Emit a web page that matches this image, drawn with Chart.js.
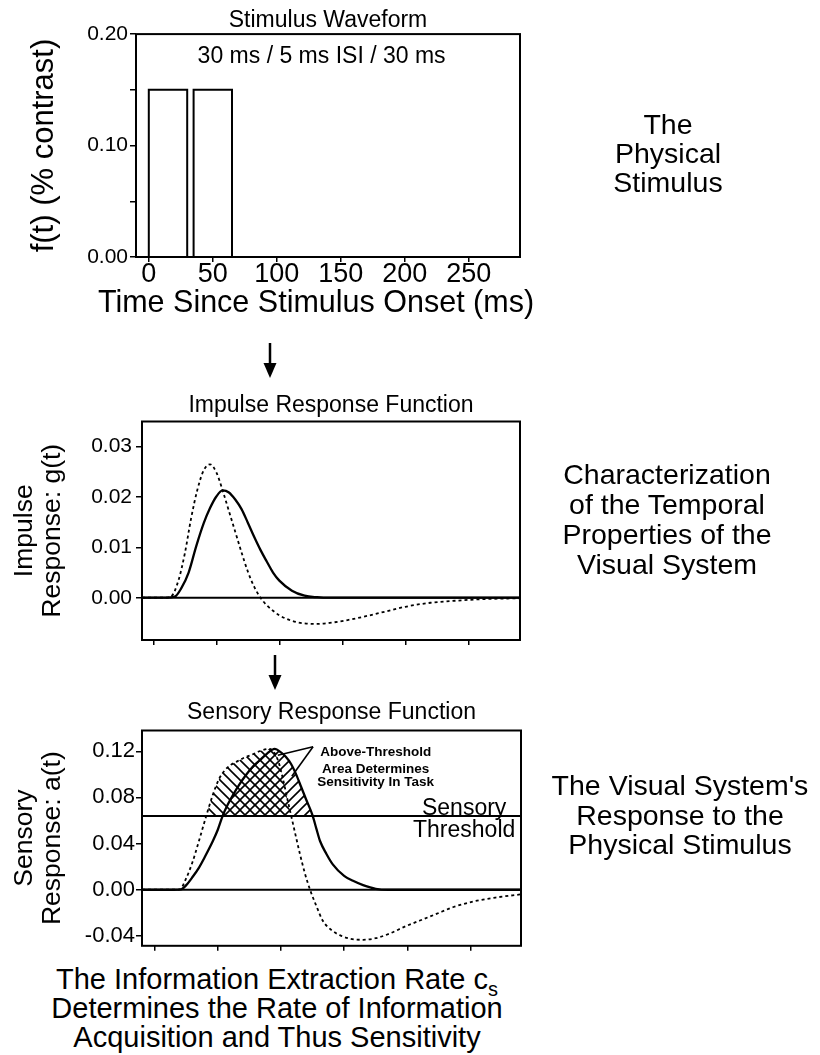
<!DOCTYPE html>
<html>
<head>
<meta charset="utf-8">
<script src="https://cdn.jsdelivr.net/npm/chart.js@4.4.0/dist/chart.umd.min.js"></script>
<style>
  body { margin: 0; background: #fff; }
  #pagina { position: relative; width: 820px; height: 1055px; font-family: "Liberation Sans", Arial, sans-serif; color: #000; }
  canvas { position: absolute; left: 0; }
  .rotulo { position: absolute; text-align: center; font-size: 28.5px; white-space: nowrap; }
  .rotulo sub { font-size: 20px; vertical-align: -7px; line-height: 0; }
  svg { position: absolute; }
</style>
</head>
<body>
<div id="pagina">
  <canvas id="graficoEstimulo" width="560" height="345" style="top:0px"></canvas>
  <canvas id="graficoImpulso" width="560" height="290" style="top:380px"></canvas>
  <canvas id="graficoSensorial" width="560" height="270" style="top:690px"></canvas>

  <div class="rotulo" style="left:66px;width:500px;top:286px;line-height:30px;font-size:30.5px">Time Since Stimulus Onset (ms)</div>

  <svg style="left:262px;top:343px" width="16" height="36"><line x1="8" y1="0" x2="8" y2="24" stroke="#000" stroke-width="2.5"/><polygon points="1.5,20 14.5,20 8,35" fill="#000"/></svg>
  <svg style="left:267px;top:655px" width="16" height="36"><line x1="8" y1="0" x2="8" y2="24" stroke="#000" stroke-width="2.5"/><polygon points="1.5,20 14.5,20 8,35" fill="#000"/></svg>

  <div class="rotulo" style="left:558px;width:220px;top:110px;line-height:29px">The<br>Physical<br>Stimulus</div>
  <div class="rotulo" style="left:552px;width:230px;top:459px;line-height:30px">Characterization<br>of the Temporal<br>Properties of the<br>Visual System</div>
  <div class="rotulo" style="left:545px;width:270px;top:771px;line-height:29.5px">The Visual System's<br>Response to the<br>Physical Stimulus</div>
  <div class="rotulo" style="left:0px;width:554px;top:965px;line-height:29px;font-size:29px">The Information Extraction Rate c<sub>s</sub><br>Determines the Rate of Information<br>Acquisition and Thus Sensitivity</div>
</div>

<script>
const fonte = '"Liberation Sans", Arial, sans-serif';
Chart.defaults.font.family = fonte;
Chart.defaults.color = "#000";

// painel 1: estimulo
const tempoTicks = [0, 50, 100, 150, 200, 250];
const tempoLabels = ["0", "50", "100", "150", "200", "250"];
const pulsoInicio = [0, 35];
const pulsoFim = [30, 65];
const pulsoAmplitude = 0.15;
const estimuloYTicks = [0, 0.05, 0.10, 0.15, 0.20];
const estimuloYLabels = ["0.00", "", "0.10", "", "0.20"];

// painel 2: resposta impulsiva
const impulsoSolidoTempo = [-9, 10, 17, 22, 28, 34, 40, 45, 50, 55, 60, 65, 70, 75, 80, 85, 90, 95, 100, 110, 120, 130, 140, 291];
const impulsoSolido = [0, 0, 0.0002, 0.0018, 0.005, 0.0102, 0.0148, 0.0178, 0.0201, 0.0213, 0.0209, 0.0195, 0.0176, 0.0149, 0.0121, 0.0095, 0.0072, 0.005, 0.0034, 0.0014, 0.0004, 0.0001, 0, 0];
const impulsoTracejadoTempo = [-9, 10, 14, 20, 25, 30, 35, 40, 45, 50, 55, 60, 65, 70, 75, 80, 85, 90, 95, 100, 110, 120, 130, 140, 155, 170, 185, 200, 220, 240, 260, 291];
const impulsoTracejado = [0, 0, 0.0002, 0.0035, 0.0088, 0.0158, 0.0215, 0.0253, 0.0265, 0.0249, 0.0213, 0.0172, 0.0131, 0.009, 0.0052, 0.0022, 0, -0.0015, -0.0026, -0.0035, -0.0046, -0.0051, -0.0052, -0.005, -0.0044, -0.0036, -0.0027, -0.0018, -0.001, -0.0006, -0.0003, -0.0001];
const impulsoYTicks = [0, 0.01, 0.02, 0.03];
const impulsoYLabels = ["0.00", "0.01", "0.02", "0.03"];

// painel 3: resposta sensorial
const sensorialSolidoTempo = [-10, 15, 21, 25, 30, 35, 40, 46, 50, 54, 58, 62, 67, 72, 78, 83, 89, 95, 100, 104, 108, 112, 116, 120, 125, 128, 131, 136, 141, 150, 157, 165, 175, 185, 290];
const sensorialSolido = [0, 0, 0.0003, 0.004, 0.011, 0.019, 0.029, 0.042, 0.052, 0.0645, 0.074, 0.082, 0.091, 0.099, 0.107, 0.112, 0.118, 0.122, 0.119, 0.115, 0.109, 0.1, 0.089, 0.078, 0.0645, 0.053, 0.042, 0.031, 0.022, 0.012, 0.0077, 0.004, 0.0008, 0, 0];
const sensorialTracejadoTempo = [-10, 15, 20, 25, 30, 35, 41, 46, 51, 56, 60, 65, 70, 77, 83, 90, 94, 98, 102, 105, 108, 111, 115, 119, 123, 128, 133, 140, 147, 155, 165, 175, 186, 198, 210, 223, 236, 253, 271, 290];
const sensorialTracejado = [0, 0, 0.0003, 0.01, 0.024, 0.042, 0.0645, 0.082, 0.096, 0.104, 0.108, 0.111, 0.114, 0.117, 0.12, 0.122, 0.12, 0.111, 0.094, 0.079, 0.0645, 0.05, 0.031, 0.014, 0, -0.014, -0.0267, -0.035, -0.0396, -0.0425, -0.0434, -0.042, -0.038, -0.032, -0.0267, -0.021, -0.0152, -0.010, -0.0066, -0.004];
const limiarSensorial = 0.064;
const sensorialYTicks = [-0.04, 0, 0.04, 0.08, 0.12];
const sensorialYLabels = ["-0.04", "0.00", "0.04", "0.08", "0.12"];


function pontos(xs, ys) {
  return xs.map((x, i) => ({ x: x, y: ys[i] }));
}

function retangulo(inicio, fim, altura) {
  return [{ x: inicio, y: 0 }, { x: inicio, y: altura }, { x: fim, y: altura }, { x: fim, y: 0 }];
}

function hachura(ctx, direcao) {
  const c = document.createElement("canvas");
  c.width = 10;
  c.height = 10;
  const g = c.getContext("2d");
  g.strokeStyle = "#000";
  g.lineWidth = 1.6;
  g.beginPath();
  if (direcao === "/") {
    g.moveTo(-2, 12); g.lineTo(12, -2);
    g.moveTo(-2, 2); g.lineTo(2, -2);
    g.moveTo(8, 12); g.lineTo(12, 8);
  } else {
    g.moveTo(-2, -2); g.lineTo(12, 12);
    g.moveTo(8, -2); g.lineTo(12, 2);
    g.moveTo(-2, 8); g.lineTo(2, 12);
  }
  g.stroke();
  return ctx.createPattern(c, "repeat");
}

// caixa em volta da area do grafico
const moldura = {
  id: "moldura",
  afterDraw(chart) {
    const { ctx, chartArea: a } = chart;
    ctx.save();
    ctx.strokeStyle = "#000";
    ctx.lineWidth = 2;
    ctx.strokeRect(a.left, a.top, a.right - a.left, a.bottom - a.top);
    ctx.restore();
  }
};

function criarAnotacoes(textos, linhas) {
  return {
    id: "anotacoes",
    afterDatasetsDraw(chart) {
      const { ctx, scales: { x, y } } = chart;
      ctx.save();
      ctx.fillStyle = "#000";
      ctx.strokeStyle = "#000";
      linhas.forEach(l => {
        ctx.lineWidth = 1.6;
        ctx.beginPath();
        ctx.moveTo(x.getPixelForValue(l.x1), y.getPixelForValue(l.y1));
        ctx.lineTo(x.getPixelForValue(l.x2), y.getPixelForValue(l.y2));
        ctx.stroke();
      });
      textos.forEach(t => {
        ctx.font = t.fonte;
        ctx.textAlign = "center";
        ctx.textBaseline = "alphabetic";
        ctx.fillText(t.texto, x.getPixelForValue(t.x), y.getPixelForValue(t.y) + (t.dy || 0));
      });
      ctx.restore();
    }
  };
}

function eixoX(min, max, altura, labels, fonteTick) {
  return {
    type: "linear",
    min: min,
    max: max,
    afterBuildTicks: eixo => { eixo.ticks = tempoTicks.map(v => ({ value: v })); },
    afterFit: eixo => { eixo.height = altura; },
    border: { display: false },
    grid: { drawOnChartArea: false, drawTicks: true, tickLength: 5, color: "#000", lineWidth: 1.5 },
    ticks: {
      display: labels !== null,
      autoSkip: false,
      maxRotation: 0,
      padding: 0,
      font: { size: fonteTick, lineHeight: 0.95 },
      callback: (v, i) => labels ? labels[i] : ""
    }
  };
}

function eixoY(min, max, largura, valores, labels, fonteTick, pad, titulo) {
  return {
    type: "linear",
    min: min,
    max: max,
    afterBuildTicks: eixo => { eixo.ticks = valores.map(v => ({ value: v })); },
    afterFit: eixo => { eixo.width = largura; },
    border: { display: false },
    grid: { drawOnChartArea: false, drawTicks: true, tickLength: 6, color: "#000", lineWidth: 1.5 },
    ticks: {
      padding: pad,
      font: { size: fonteTick },
      callback: (v, i) => labels[i]
    },
    title: titulo
  };
}

function tituloGrafico(texto, topo, baixo) {
  return {
    display: true,
    text: texto,
    fullSize: false,
    color: "#000",
    font: { size: 23, weight: "normal", lineHeight: 1.2 },
    padding: { top: topo, bottom: baixo }
  };
}


function criarEstimulo() {
  const ctx = document.getElementById("graficoEstimulo");
  const conjuntos = pulsoInicio.map((ini, i) => ({
    data: retangulo(ini, pulsoFim[i], pulsoAmplitude),
    borderColor: "#000",
    borderWidth: 2,
    pointRadius: 0,
    tension: 0,
    fill: false
  }));

  new Chart(ctx, {
    type: "line",
    data: { datasets: conjuntos },
    options: {
      responsive: false,
      animation: false,
      events: [],
      layout: { padding: { left: 0, right: 40, top: 0, bottom: 0 } },
      plugins: {
        legend: { display: false },
        tooltip: { enabled: false },
        title: tituloGrafico("Stimulus Waveform", 6.5, 0)
      },
      scales: {
        x: eixoX(-10, 290, 88, tempoLabels, 27),
        y: eixoY(0, 0.2, 136, estimuloYTicks, estimuloYLabels, 21, 2, {
          display: true,
          text: "f(t) (% contrast)",
          font: { size: 31, lineHeight: 1.2 },
          padding: { top: 26, bottom: 0 }
        })
      }
    },
    plugins: [moldura, criarAnotacoes(
      [{ texto: "30 ms / 5 ms ISI / 30 ms", x: 135, y: 0.174, fonte: "23px " + fonte }],
      []
    )]
  });
}


function criarImpulso() {
  const ctx = document.getElementById("graficoImpulso");

  new Chart(ctx, {
    type: "line",
    data: {
      datasets: [
        {
          data: pontos([-9, 291], [0, 0]),
          borderColor: "#000",
          borderWidth: 2,
          pointRadius: 0
        },
        {
          data: pontos(impulsoTracejadoTempo, impulsoTracejado),
          borderColor: "#000",
          borderWidth: 1.8,
          borderDash: [3, 3],
          pointRadius: 0,
          cubicInterpolationMode: "monotone"
        },
        {
          data: pontos(impulsoSolidoTempo, impulsoSolido),
          borderColor: "#000",
          borderWidth: 2.3,
          pointRadius: 0,
          cubicInterpolationMode: "monotone"
        }
      ]
    },
    options: {
      responsive: false,
      animation: false,
      events: [],
      layout: { padding: { left: 0, right: 40, top: 0, bottom: 0 } },
      plugins: {
        legend: { display: false },
        tooltip: { enabled: false },
        title: tituloGrafico("Impulse Response Function", 11.5, 2.4)
      },
      scales: {
        x: eixoX(-9, 291, 30, null, 27),
        y: eixoY(-0.0084, 0.035, 142, impulsoYTicks, impulsoYLabels, 21, 4, {
          display: true,
          text: ["Impulse", "Response: g(t)"],
          font: { size: 26.5, lineHeight: 1.05 },
          padding: { top: 11, bottom: 0 }
        })
      }
    },
    plugins: [moldura]
  });
}


function criarSensorial() {
  const canvas = document.getElementById("graficoSensorial");
  const ctx2d = canvas.getContext("2d");

  new Chart(canvas, {
    type: "line",
    data: {
      datasets: [
        {
          data: pontos([-10, 290], [0, 0]),
          borderColor: "#000",
          borderWidth: 2,
          pointRadius: 0
        },
        {
          data: pontos([-10, 290], [limiarSensorial, limiarSensorial]),
          borderColor: "#000",
          borderWidth: 2,
          pointRadius: 0
        },
        {
          data: pontos(sensorialTracejadoTempo, sensorialTracejado),
          borderColor: "#000",
          borderWidth: 1.8,
          borderDash: [3, 3],
          pointRadius: 0,
          cubicInterpolationMode: "monotone",
          fill: { target: { value: limiarSensorial }, above: hachura(ctx2d, "\\"), below: "rgba(0,0,0,0)" }
        },
        {
          data: pontos(sensorialSolidoTempo, sensorialSolido),
          borderColor: "#000",
          borderWidth: 2.3,
          pointRadius: 0,
          cubicInterpolationMode: "monotone",
          fill: { target: { value: limiarSensorial }, above: hachura(ctx2d, "/"), below: "rgba(0,0,0,0)" }
        }
      ]
    },
    options: {
      responsive: false,
      animation: false,
      events: [],
      layout: { padding: { left: 0, right: 39, top: 0, bottom: 0 } },
      plugins: {
        legend: { display: false },
        tooltip: { enabled: false },
        title: tituloGrafico("Sensory Response Function", 8.5, 4.4)
      },
      scales: {
        x: eixoX(-10, 290, 12, null, 27),
        y: eixoY(-0.0486, 0.138, 142, sensorialYTicks, sensorialYLabels, 22, 1, {
          display: true,
          text: ["Sensory", "Response: a(t)"],
          font: { size: 26.5, lineHeight: 1.05 },
          padding: { top: 11, bottom: 0 }
        })
      }
    },
    plugins: [moldura, criarAnotacoes(
      [
        { texto: "Above-Threshold", x: 175, y: 0.1155, fonte: "bold 13.5px " + fonte },
        { texto: "Area Determines", x: 175, y: 0.101, fonte: "bold 13.5px " + fonte },
        { texto: "Sensitivity In Task", x: 175, y: 0.0897, fonte: "bold 13.5px " + fonte },
        { texto: "Sensory", x: 245, y: limiarSensorial, dy: -1, fonte: "23px " + fonte },
        { texto: "Threshold", x: 245, y: limiarSensorial, dy: 21, fonte: "23px " + fonte }
      ],
      [
        { x1: 125.4, y1: 0.1239, x2: 97.5, y2: 0.1165 },
        { x1: 125.4, y1: 0.1239, x2: 108.6, y2: 0.0983 }
      ]
    )]
  });
}

criarEstimulo();
criarImpulso();
criarSensorial();
</script>
</body>
</html>
